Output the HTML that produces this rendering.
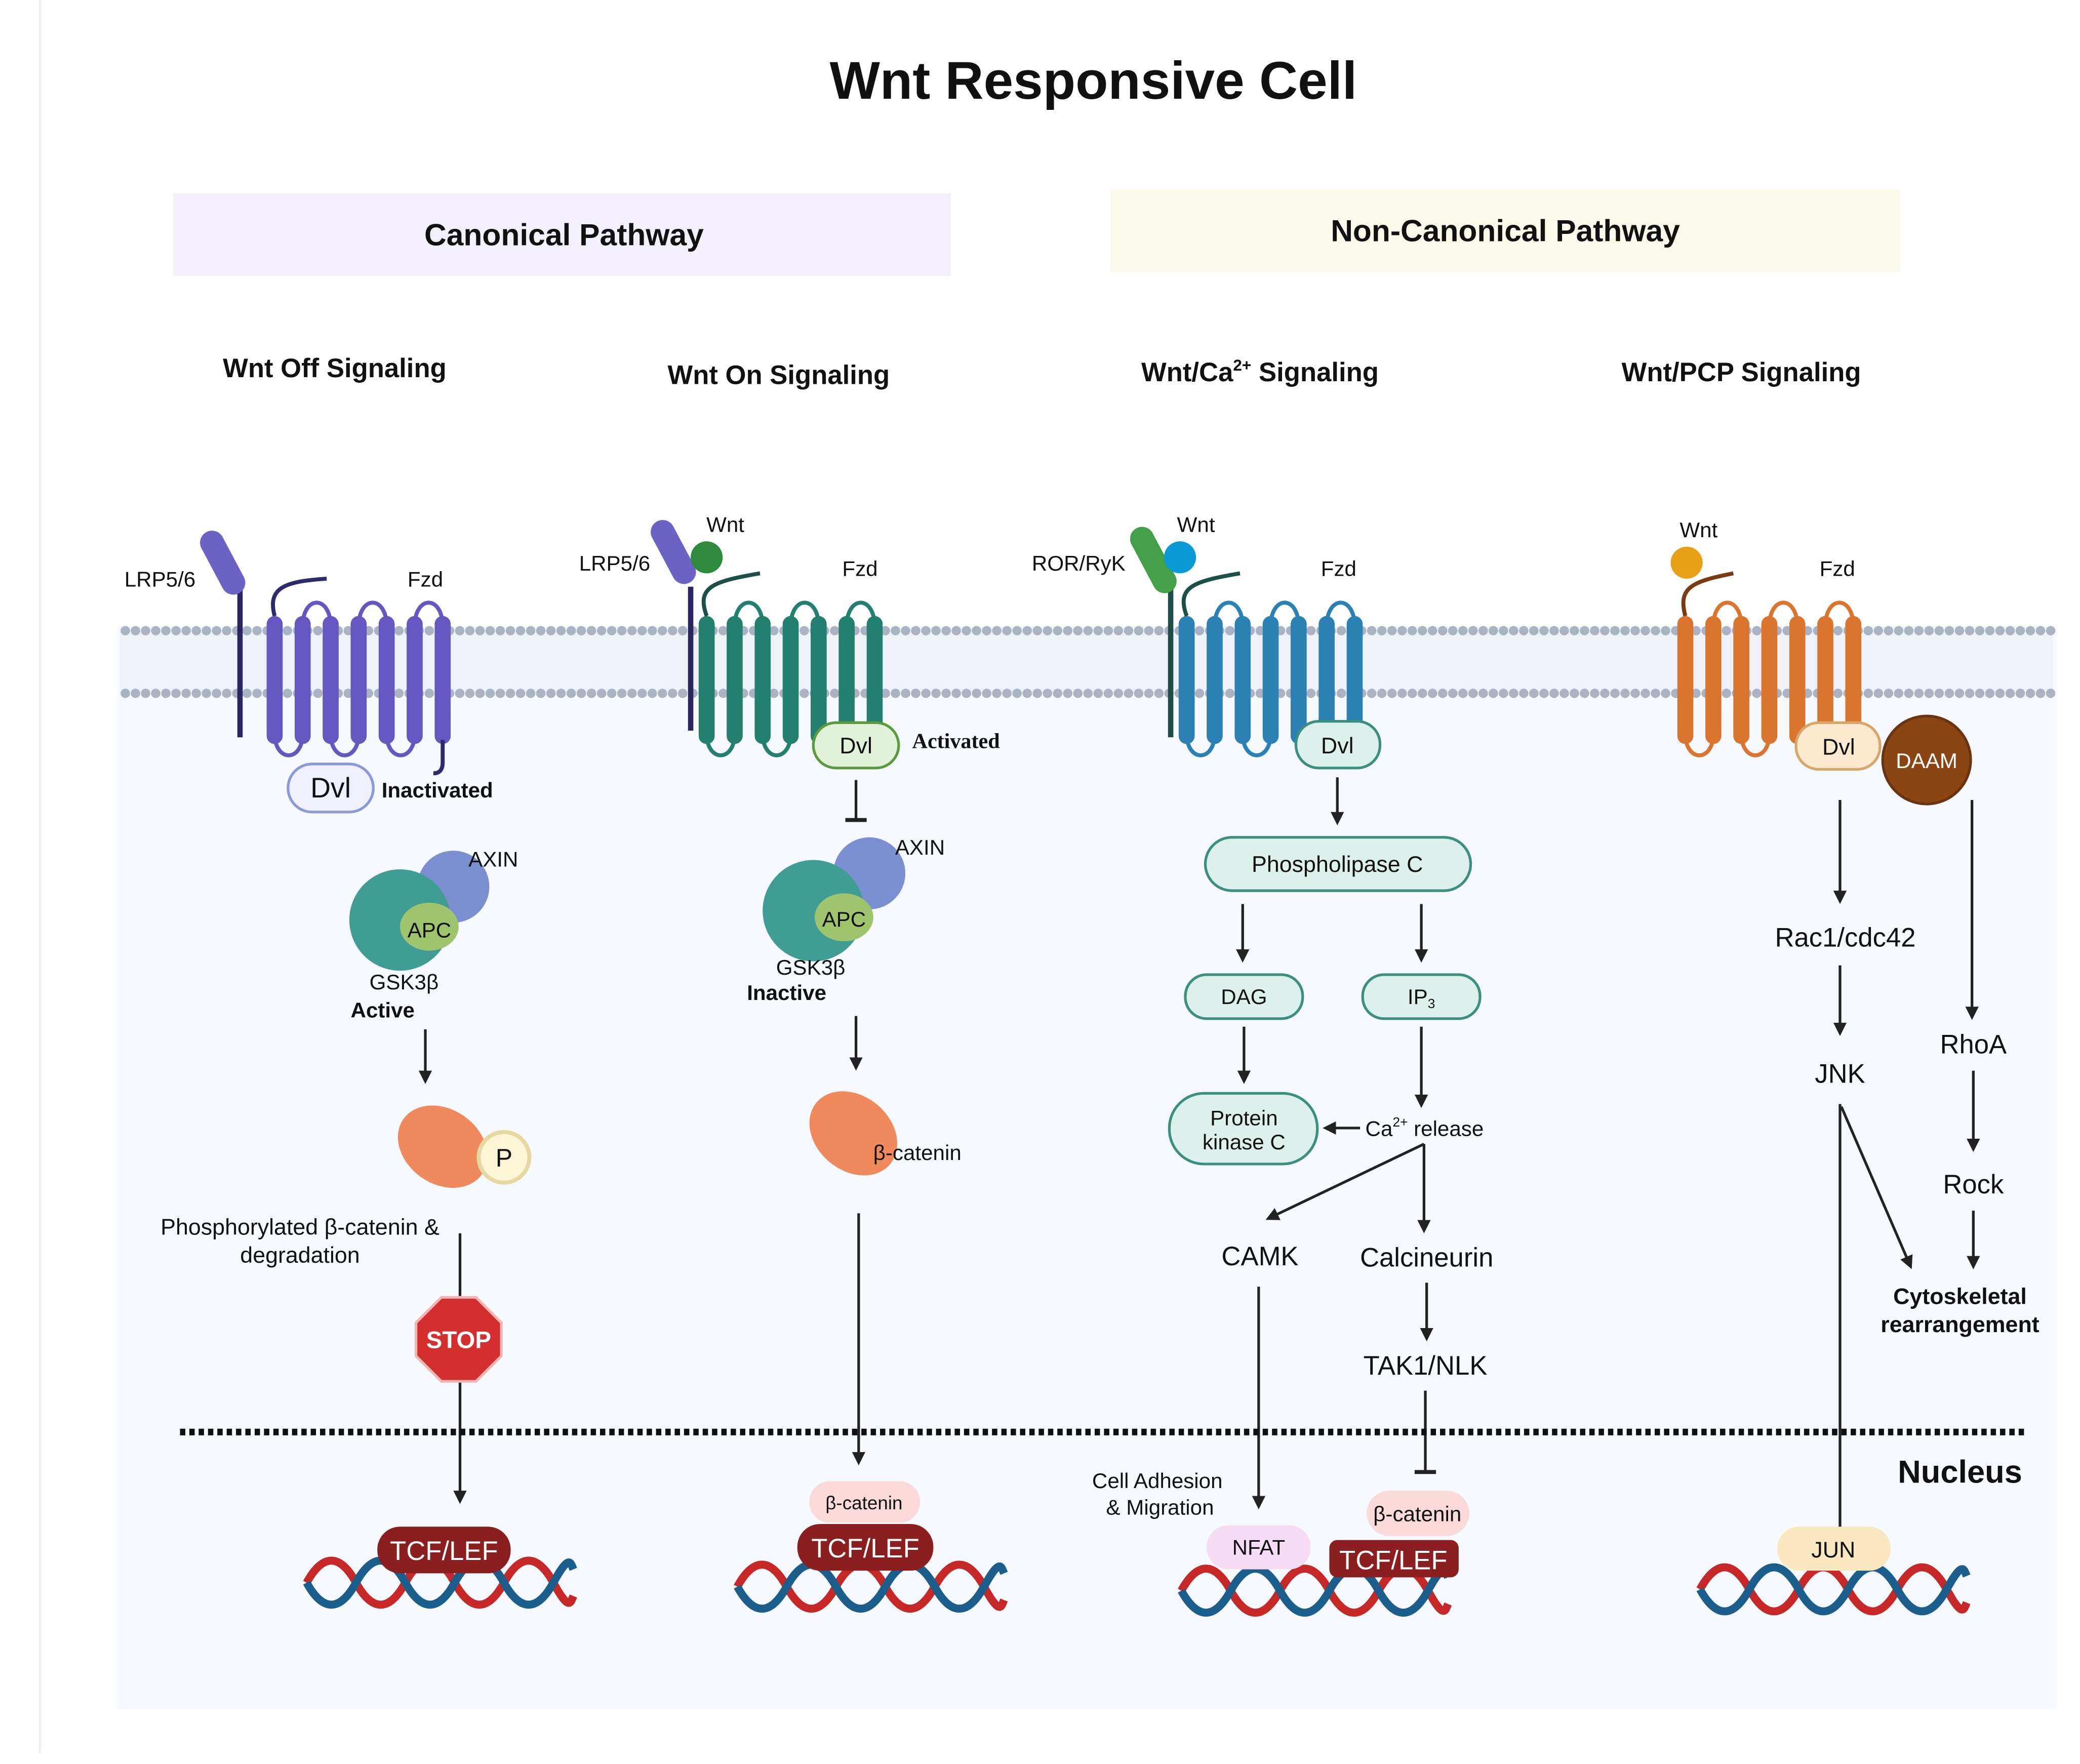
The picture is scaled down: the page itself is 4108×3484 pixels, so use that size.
<!DOCTYPE html>
<html><head><meta charset="utf-8"><style>
html,body{margin:0;padding:0;background:#fff;}
svg{display:block;}
text{font-family:"Liberation Sans",sans-serif;fill:#111;}
.b{font-weight:bold;}
</style></head><body>
<svg width="4108" height="3484" viewBox="0 0 1560 1323" preserveAspectRatio="none" xmlns="http://www.w3.org/2000/svg">
<defs>
<marker id="ah" viewBox="0 0 10 10" refX="8" refY="5" markerWidth="5" markerHeight="5" orient="auto"><path d="M0,0 L10,5 L0,10 z" fill="#222"/></marker>
<g id="rec">
 <g fill="none" stroke="currentColor" stroke-width="3">
  <path d="M6 80 C6 102 27 102 27 80"/><path d="M48 80 C48 102 69 102 69 80"/><path d="M90 80 C90 102 111 102 111 80"/>
  <path d="M27 0 C27 -24 48 -24 48 0"/><path d="M69 0 C69 -24 90 -24 90 0"/><path d="M111 0 C111 -24 132 -24 132 0"/>
 </g>
 <g fill="currentColor">
  <rect x="0" y="-8" width="12" height="96" rx="6"/><rect x="21" y="-8" width="12" height="96" rx="6"/><rect x="42" y="-8" width="12" height="96" rx="6"/><rect x="63" y="-8" width="12" height="96" rx="6"/><rect x="84" y="-8" width="12" height="96" rx="6"/><rect x="105" y="-8" width="12" height="96" rx="6"/><rect x="126" y="-8" width="12" height="96" rx="6"/>
 </g>
</g>
<g id="dna">
 <path d="M0 0 C12 -22 25 -22 37 0 S62 22 74 0 S99 -22 111 0 S136 22 148 0 S173 -22 185 0 S198 15 200 10" fill="none" stroke="#c62828" stroke-width="6"/>
 <path d="M0 0 C12 22 25 22 37 0 S62 -22 74 0 S99 22 111 0 S136 -22 148 0 S173 22 185 0 S198 -15 200 -10" fill="none" stroke="#1b5e8c" stroke-width="6"/>
</g>
</defs>
<rect width="1560" height="1323" fill="#fff"/>
<line x1="30" y1="0" x2="30" y2="1315" stroke="#eee" stroke-width="1.5"/>
<rect x="88" y="470" width="1455" height="812" fill="#f6f9fd"/>
<text x="820" y="74" text-anchor="middle" class="b" font-size="40">Wnt Responsive Cell</text>
<rect x="130" y="145" width="583" height="62" fill="#f3f0fb"/>
<text x="423" y="184" text-anchor="middle" class="b" font-size="23">Canonical Pathway</text>
<rect x="833" y="142" width="592" height="62" fill="#fbf9ea"/>
<text x="1129" y="181" text-anchor="middle" class="b" font-size="23">Non-Canonical Pathway</text>
<g class="b" font-size="20" text-anchor="middle">
<text x="251" y="283" class="b">Wnt Off Signaling</text>
<text x="584" y="288" class="b">Wnt On Signaling</text>
<text x="945" y="286" class="b">Wnt/Ca<tspan font-size="12" dy="-8">2+</tspan><tspan dy="8"> Signaling</tspan></text>
<text x="1306" y="286" class="b">Wnt/PCP Signaling</text>
</g>
<!-- membrane -->
<rect x="90" y="470" width="1450" height="52" fill="#eef1f7"/>
<line x1="94" y1="473" x2="1540" y2="473" stroke="#aab2c4" stroke-width="7" stroke-linecap="round" stroke-dasharray="0,7.6"/>
<line x1="94" y1="520" x2="1540" y2="520" stroke="#aab2c4" stroke-width="7" stroke-linecap="round" stroke-dasharray="0,7.6"/>
<!-- off -->
<g color="#6656c0" transform="translate(200,470)"><use href="#rec"/></g>
<path d="M206 462 C200 440 215 436 245 434" fill="none" stroke="#2e2a6b" stroke-width="3"/>
<path d="M332 555 L332 572 Q332 580 325 580" fill="none" stroke="#2e2a6b" stroke-width="3"/>
<line x1="180" y1="440" x2="180" y2="553" stroke="#2a2560" stroke-width="4"/>
<rect x="158" y="396" width="18" height="52" rx="9" fill="#6d63c4" transform="rotate(-28 167 422)"/>
<text x="120" y="440" text-anchor="middle" font-size="16">LRP5/6</text>
<text x="319" y="440" text-anchor="middle" font-size="16">Fzd</text>
<rect x="216" y="573" width="64" height="36" rx="18" fill="#eef1fb" stroke="#8a9ad8" stroke-width="2"/>
<text x="248" y="598" text-anchor="middle" font-size="21">Dvl</text>
<text x="328" y="598" text-anchor="middle" class="b" font-size="16">Inactivated</text>
<circle cx="340" cy="665" r="27" fill="#7b8fd0"/><circle cx="300" cy="690" r="38" fill="#3f9d94"/><ellipse cx="322" cy="695" rx="22" ry="18" fill="#9ec46e"/>
<text x="370" y="650" text-anchor="middle" font-size="16">AXIN</text>
<text x="322" y="703" text-anchor="middle" font-size="16">APC</text>
<text x="303" y="742" text-anchor="middle" font-size="16">GSK3β</text>
<text x="287" y="763" text-anchor="middle" class="b" font-size="16">Active</text>
<line x1="319" y1="772" x2="319" y2="811" stroke="#222" stroke-width="2" marker-end="url(#ah)"/>
<ellipse cx="332" cy="860" rx="36" ry="28" fill="#f08a5d" transform="rotate(35 332 860)"/>
<circle cx="378" cy="868" r="19" fill="#fdf5d8" stroke="#e6d8a0" stroke-width="3"/>
<text x="378" y="875" text-anchor="middle" font-size="19">P</text>
<text x="225" y="926" text-anchor="middle" font-size="17">Phosphorylated β-catenin &amp;</text>
<text x="225" y="947" text-anchor="middle" font-size="17">degradation</text>
<line x1="345" y1="925" x2="345" y2="1126" stroke="#222" stroke-width="2" marker-end="url(#ah)"/>
<polygon points="331,973 357,973 376,992 376,1017 357,1036 331,1036 312,1017 312,992" fill="#d32f2f" stroke="#f5b5b5" stroke-width="2"/>
<text x="344" y="1011" text-anchor="middle" class="b" font-size="18" style="fill:#fff">STOP</text>
<g transform="translate(230,1187)"><use href="#dna"/></g>
<rect x="283" y="1145" width="100" height="35" rx="17" fill="#8b1f1f"/>
<text x="333" y="1170" text-anchor="middle" font-size="20" style="fill:#fff">TCF/LEF</text>
<!-- on -->
<g color="#23806f" transform="translate(524,470)"><use href="#rec"/></g>
<path d="M530 462 C522 440 535 436 570 430" fill="none" stroke="#1b4f47" stroke-width="3"/>
<line x1="518" y1="440" x2="518" y2="548" stroke="#2a2560" stroke-width="4"/>
<rect x="496" y="388" width="18" height="52" rx="9" fill="#6d63c4" transform="rotate(-28 505 414)"/>
<circle cx="530" cy="418" r="12" fill="#2e8b3e"/>
<text x="544" y="399" text-anchor="middle" font-size="16">Wnt</text>
<text x="461" y="428" text-anchor="middle" font-size="16">LRP5/6</text>
<text x="645" y="432" text-anchor="middle" font-size="16">Fzd</text>
<rect x="610" y="542" width="64" height="34" rx="17" fill="#e2f2d8" stroke="#5b9a3f" stroke-width="2"/>
<text x="642" y="565" text-anchor="middle" font-size="17">Dvl</text>
<text x="717" y="561" text-anchor="middle" class="b" font-size="16" style="font-family:'Liberation Serif',serif">Activated</text>
<line x1="642" y1="585" x2="642" y2="615" stroke="#222" stroke-width="2"/><line x1="634" y1="615" x2="650" y2="615" stroke="#222" stroke-width="3"/>
<circle cx="652" cy="655" r="27" fill="#7b8fd0"/><circle cx="610" cy="683" r="38" fill="#3f9d94"/><ellipse cx="633" cy="688" rx="22" ry="18" fill="#9ec46e"/>
<text x="690" y="641" text-anchor="middle" font-size="16">AXIN</text>
<text x="633" y="695" text-anchor="middle" font-size="16">APC</text>
<text x="608" y="731" text-anchor="middle" font-size="16">GSK3β</text>
<text x="590" y="750" text-anchor="middle" class="b" font-size="16">Inactive</text>
<line x1="642" y1="762" x2="642" y2="801" stroke="#222" stroke-width="2" marker-end="url(#ah)"/>
<ellipse cx="640" cy="850" rx="36" ry="28" fill="#f08a5d" transform="rotate(40 640 850)"/>
<text x="688" y="870" text-anchor="middle" font-size="16">β-catenin</text>
<line x1="644" y1="910" x2="644" y2="1097" stroke="#222" stroke-width="2" marker-end="url(#ah)"/>
<rect x="607" y="1111" width="83" height="31" rx="15" fill="#fadada"/>
<text x="648" y="1132" text-anchor="middle" font-size="14">β-catenin</text>
<g transform="translate(553,1190)"><use href="#dna"/></g>
<rect x="598" y="1143" width="102" height="35" rx="17" fill="#8b1f1f"/>
<text x="649" y="1168" text-anchor="middle" font-size="20" style="fill:#fff">TCF/LEF</text>
<!-- Ca -->
<g color="#2b80b4" transform="translate(884,470)"><use href="#rec"/></g>
<path d="M890 462 C882 440 895 436 930 430" fill="none" stroke="#1b4f47" stroke-width="3"/>
<line x1="878" y1="440" x2="878" y2="553" stroke="#1b4f47" stroke-width="4"/>
<rect x="856" y="393" width="18" height="54" rx="9" fill="#44a047" transform="rotate(-28 865 420)"/>
<circle cx="885" cy="418" r="12" fill="#0a9ad8"/>
<text x="897" y="399" text-anchor="middle" font-size="16">Wnt</text>
<text x="809" y="428" text-anchor="middle" font-size="16">ROR/RyK</text>
<text x="1004" y="432" text-anchor="middle" font-size="16">Fzd</text>
<rect x="972" y="541" width="63" height="35" rx="17" fill="#ddf1ec" stroke="#3a8f7f" stroke-width="2"/>
<text x="1003" y="565" text-anchor="middle" font-size="17">Dvl</text>
<line x1="1003" y1="583" x2="1003" y2="617" stroke="#222" stroke-width="2" marker-end="url(#ah)"/>
<rect x="904" y="628" width="199" height="40" rx="20" fill="#dcf1ec" stroke="#3a8f7f" stroke-width="2"/>
<text x="1003" y="654" text-anchor="middle" font-size="17">Phospholipase C</text>
<line x1="932" y1="678" x2="932" y2="720" stroke="#222" stroke-width="2" marker-end="url(#ah)"/>
<line x1="1066" y1="678" x2="1066" y2="720" stroke="#222" stroke-width="2" marker-end="url(#ah)"/>
<rect x="889" y="731" width="88" height="33" rx="16" fill="#dcf1ec" stroke="#3a8f7f" stroke-width="2"/>
<text x="933" y="753" text-anchor="middle" font-size="16">DAG</text>
<rect x="1022" y="731" width="88" height="33" rx="16" fill="#dcf1ec" stroke="#3a8f7f" stroke-width="2"/>
<text x="1066" y="753" text-anchor="middle" font-size="16">IP<tspan font-size="10" dy="3">3</tspan></text>
<line x1="933" y1="770" x2="933" y2="811" stroke="#222" stroke-width="2" marker-end="url(#ah)"/>
<line x1="1066" y1="770" x2="1066" y2="829" stroke="#222" stroke-width="2" marker-end="url(#ah)"/>
<rect x="877" y="820" width="111" height="53" rx="26" fill="#dcf1ec" stroke="#3a8f7f" stroke-width="2"/>
<text x="933" y="844" text-anchor="middle" font-size="16">Protein</text>
<text x="933" y="862" text-anchor="middle" font-size="16">kinase C</text>
<line x1="1020" y1="846" x2="994" y2="846" stroke="#222" stroke-width="2" marker-end="url(#ah)"/>
<text x="1024" y="852" font-size="16">Ca<tspan font-size="10" dy="-7">2+</tspan><tspan dy="7"> release</tspan></text>
<line x1="1068" y1="858" x2="951" y2="914" stroke="#222" stroke-width="2" marker-end="url(#ah)"/>
<line x1="1068" y1="858" x2="1068" y2="923" stroke="#222" stroke-width="2" marker-end="url(#ah)"/>
<text x="945" y="949" text-anchor="middle" font-size="20">CAMK</text>
<text x="1070" y="950" text-anchor="middle" font-size="20">Calcineurin</text>
<line x1="1070" y1="962" x2="1070" y2="1004" stroke="#222" stroke-width="2" marker-end="url(#ah)"/>
<text x="1069" y="1031" text-anchor="middle" font-size="20">TAK1/NLK</text>
<line x1="1069" y1="1043" x2="1069" y2="1104" stroke="#222" stroke-width="2"/><line x1="1061" y1="1104" x2="1077" y2="1104" stroke="#222" stroke-width="3"/>
<line x1="944" y1="965" x2="944" y2="1130" stroke="#222" stroke-width="2" marker-end="url(#ah)"/>
<text x="868" y="1116" text-anchor="middle" font-size="16">Cell Adhesion</text>
<text x="870" y="1136" text-anchor="middle" font-size="16">&amp; Migration</text>
<g transform="translate(886,1193)"><use href="#dna"/></g>
<rect x="905" y="1144" width="78" height="33" rx="16" fill="#f6dcf5"/>
<text x="944" y="1166" text-anchor="middle" font-size="16">NFAT</text>
<rect x="1025" y="1118" width="77" height="34" rx="17" fill="#fadada"/>
<text x="1063" y="1141" text-anchor="middle" font-size="16">β-catenin</text>
<rect x="997" y="1155" width="97" height="28" rx="6" fill="#8b1f1f"/>
<text x="1045" y="1177" text-anchor="middle" font-size="20" style="fill:#fff">TCF/LEF</text>
<!-- PCP -->
<g color="#d9752f" transform="translate(1258,470)"><use href="#rec"/></g>
<path d="M1264 462 C1258 440 1270 436 1300 430" fill="none" stroke="#7a3b12" stroke-width="3"/>
<circle cx="1265" cy="422" r="12" fill="#e8a116"/>
<text x="1274" y="403" text-anchor="middle" font-size="16">Wnt</text>
<text x="1378" y="432" text-anchor="middle" font-size="16">Fzd</text>
<rect x="1347" y="542" width="63" height="35" rx="17" fill="#fde9cf" stroke="#d9a66a" stroke-width="2"/>
<text x="1379" y="566" text-anchor="middle" font-size="17">Dvl</text>
<circle cx="1445" cy="570" r="33" fill="#8b4513" stroke="#6b3410" stroke-width="2"/>
<text x="1445" y="576" text-anchor="middle" font-size="16" style="fill:#fff">DAAM</text>
<line x1="1380" y1="600" x2="1380" y2="676" stroke="#222" stroke-width="2" marker-end="url(#ah)"/>
<text x="1384" y="710" text-anchor="middle" font-size="20">Rac1/cdc42</text>
<line x1="1380" y1="724" x2="1380" y2="775" stroke="#222" stroke-width="2" marker-end="url(#ah)"/>
<text x="1380" y="812" text-anchor="middle" font-size="20">JNK</text>
<line x1="1380" y1="828" x2="1380" y2="1160" stroke="#222" stroke-width="2" marker-end="url(#ah)"/>
<line x1="1381" y1="830" x2="1433" y2="950" stroke="#222" stroke-width="2" marker-end="url(#ah)"/>
<line x1="1479" y1="600" x2="1479" y2="763" stroke="#222" stroke-width="2" marker-end="url(#ah)"/>
<text x="1480" y="790" text-anchor="middle" font-size="20">RhoA</text>
<line x1="1480" y1="803" x2="1480" y2="862" stroke="#222" stroke-width="2" marker-end="url(#ah)"/>
<text x="1480" y="895" text-anchor="middle" font-size="20">Rock</text>
<line x1="1480" y1="908" x2="1480" y2="950" stroke="#222" stroke-width="2" marker-end="url(#ah)"/>
<text x="1470" y="978" text-anchor="middle" class="b" font-size="17">Cytoskeletal</text>
<text x="1470" y="999" text-anchor="middle" class="b" font-size="17">rearrangement</text>
<line x1="135" y1="1074" x2="1520" y2="1074" stroke="#111" stroke-width="5" stroke-dasharray="4,3"/>
<text x="1470" y="1112" text-anchor="middle" class="b" font-size="24">Nucleus</text>
<g transform="translate(1275,1192)"><use href="#dna"/></g>
<rect x="1333" y="1145" width="85" height="33" rx="16" fill="#fbe7c0"/>
<text x="1375" y="1168" text-anchor="middle" font-size="17">JUN</text>
</svg>
</body></html>
